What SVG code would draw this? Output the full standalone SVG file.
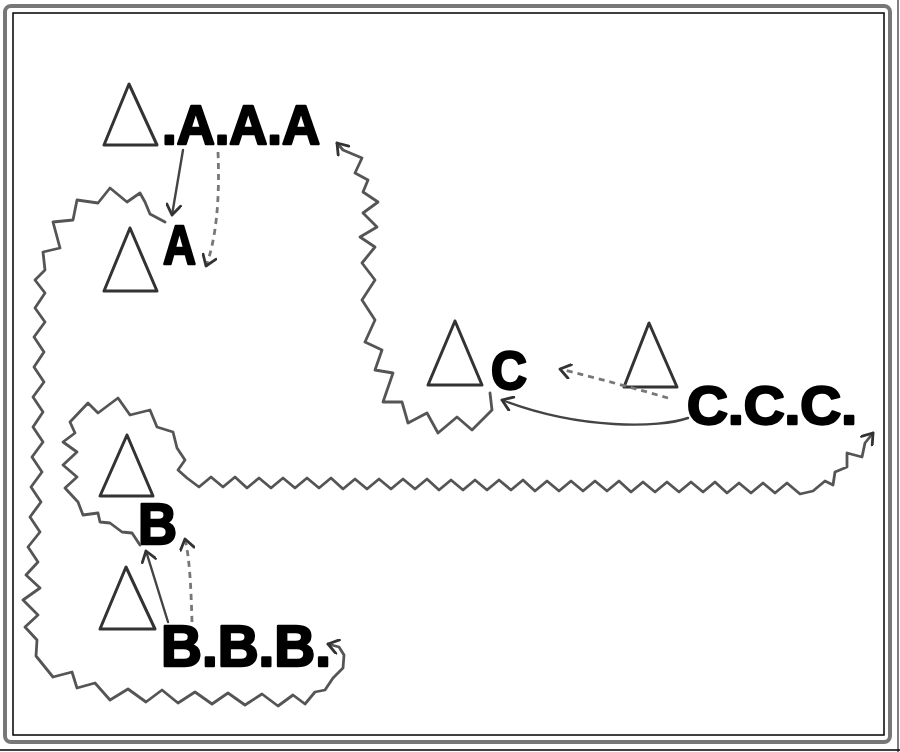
<svg xmlns="http://www.w3.org/2000/svg" width="900" height="752" viewBox="0 0 900 752">
<defs>
<style>
.tri{fill:none;stroke:#333;stroke-width:3;stroke-linejoin:round}
.lbl{font-family:"Liberation Sans","Arial",sans-serif;font-weight:bold;fill:#000;stroke:#000;stroke-width:2.4;stroke-linejoin:round}
.wave{fill:none;stroke:#555;stroke-width:2.8;stroke-linejoin:round;stroke-linecap:round}
.solid{fill:none;stroke:#444;stroke-width:2.4;stroke-linecap:round}
.dash{fill:none;stroke:#777;stroke-width:2.8;stroke-dasharray:6 5}
</style>
<marker id="ah" viewBox="0 0 16 16" refX="14" refY="8" markerWidth="16" markerHeight="16" markerUnits="userSpaceOnUse" orient="auto">
<path d="M4,1 L14,8 L4,15" fill="none" stroke="#333" stroke-width="2.8" stroke-linejoin="round" stroke-linecap="round"/>
</marker>
</defs>
<rect x="0" y="0" width="900" height="752" fill="#fff"/>
<rect x="5" y="6" width="885" height="736" rx="6" fill="none" stroke="#777" stroke-width="4"/>
<rect x="13" y="13" width="871" height="722" fill="none" stroke="#000" stroke-width="1.5"/>
<line x1="0" y1="750" x2="900" y2="750" stroke="#000" stroke-width="1.5"/>
<line x1="898" y1="0" x2="898" y2="752" stroke="#000" stroke-width="1"/>

<g id="n-AAA">
<polygon class="tri" points="129,84 104,145 157,145"/>
<text class="lbl" x="162" y="144" font-size="55" textLength="158" lengthAdjust="spacingAndGlyphs">.A.A.A</text>
</g>
<g id="n-A">
<polygon class="tri" points="130,228 104,291 157,291"/>
<text class="lbl" x="163" y="264" font-size="55" textLength="33" lengthAdjust="spacingAndGlyphs">A</text>
</g>
<g id="n-C">
<polygon class="tri" points="455,321 428,385 482,385"/>
<text class="lbl" x="491" y="389" font-size="53" textLength="36" lengthAdjust="spacingAndGlyphs">C</text>
</g>
<g id="n-CCC">
<polygon class="tri" points="649,323 624,387 677,387"/>
<text class="lbl" x="687" y="424" font-size="53" textLength="170" lengthAdjust="spacingAndGlyphs">C.C.C.</text>
</g>
<g id="n-B">
<polygon class="tri" points="127,435 100,496 153,496"/>
<text class="lbl" x="138" y="544" font-size="57" textLength="39" lengthAdjust="spacingAndGlyphs">B</text>
</g>
<g id="n-BBB">
<polygon class="tri" points="126,567 100,629 155,629"/>
<text class="lbl" x="161" y="666" font-size="57" textLength="170" lengthAdjust="spacingAndGlyphs">B.B.B.</text>
</g>

<g id="connectors">
<path class="solid" d="M183,150 L172,215" marker-end="url(#ah)"/>
<path class="dash" d="M218,152 C220,200 216,240 206,266" marker-end="url(#ah)"/>
<path class="solid" d="M688,418 C660,428 580,430 502,400" marker-end="url(#ah)"/>
<path class="dash" d="M668,398 Q620,384 560,369" marker-end="url(#ah)"/>
<path class="solid" d="M168,622 L146,551" marker-end="url(#ah)"/>
<path class="dash" d="M192,622 C191,590 190,560 185,539" marker-end="url(#ah)"/>

<polyline class="wave" marker-end="url(#ah)" points="490,393 492,410 472,430 457,417 438,433 427,413 408,423 402,402 383,402 393,373 375,370 382,350 365,342 375,320 362,300 375,280 362,263 375,247 360,237 377,227 363,213 378,202 363,192 368,180 355,173 362,158 343,150 337,143"/>

<polyline class="wave" marker-end="url(#ah)" points="165,222 150,214 145,202 140,193 127,202 110,188 98,203 77,200 73,220 53,222 60,248 43,252 45,270 35,280 45,293 35,308 45,322 34,337 44,352 34,367 44,382 33,397 43,412 33,427 43,442 32,457 42,472 31,487 41,502 30,517 40,532 28,547 38,562 26,575 40,588 23,600 38,615 25,627 37,640 36,656 53,677 72,672 77,688 95,683 110,700 128,689 146,702 162,690 178,703 195,692 212,704 228,693 245,705 262,694 278,706 293,695 305,704 315,692 325,690 333,678 343,668 344,655 339,647 328,644"/>

<polyline class="wave" marker-end="url(#ah)" points="140,545 132,533 122,532 110,523 100,522 98,513 83,515 78,502 65,488 77,477 63,465 77,452 63,442 75,433 70,422 88,403 98,413 118,398 130,415 150,410 157,427 173,432 177,448 185,460 178,470 187,478 199,487 211,477 223,487 235,477 247,488 259,478 271,488 283,478 295,488 307,478 319,488 331,478 343,489 355,479 367,489 379,479 391,489 403,479 415,489 427,479 439,490 451,480 463,490 475,480 487,490 499,480 511,490 523,480 535,491 547,481 559,491 571,481 583,491 595,481 607,491 619,481 631,492 643,482 655,492 667,482 679,492 691,482 703,492 715,482 727,493 739,483 751,493 763,483 775,493 787,483 800,494 813,491 825,481 833,485 835,472 847,467 847,453 862,457 865,443 873,433"/>
</g>
</svg>
